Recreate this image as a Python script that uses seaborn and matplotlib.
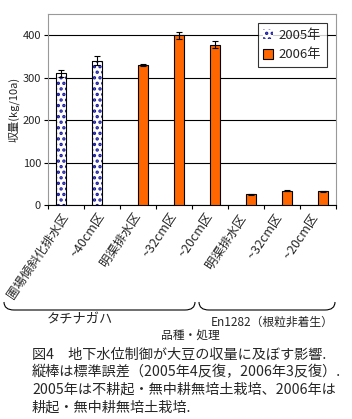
import matplotlib
matplotlib.use('Agg')
import matplotlib.pyplot as plt
from matplotlib.patches import Rectangle, PathPatch, Patch
from matplotlib.path import Path
import pandas as pd
import seaborn as sns

# data
categories = ['圃場傾斜化排水区', '~40cm区', '明渠排水区', '~32cm区', '~20cm区',
              '明渠排水区 ', '~32cm区 ', '~20cm区 ']
years = ['2005年', '2005年', '2006年', '2006年', '2006年', '2006年', '2006年', '2006年']
yield_vals = [310, 340, 330, 400, 378, 25, 34, 32]
se_vals = [9, 11, 3, 8, 9, 2, 1, 2]
y_ticks = [0, 100, 200, 300, 400]

df = pd.DataFrame({'cat': categories, 'year': years, 'yield': yield_vals, 'se': se_vals})

sns.set_style('white')
plt.rcParams['font.family'] = ['Noto Sans CJK JP', 'DejaVu Sans']
plt.rcParams['hatch.linewidth'] = 1.6

W, H = 352, 419
fig = plt.figure(figsize=(W / 100, H / 100), dpi=100)
ax = fig.add_axes([48 / W, 1 - 205 / H, 288 / W, 191 / H])

sns.barplot(data=df, x='cat', y='yield', hue='year', order=categories,
            hue_order=['2005年', '2006年'], palette={'2005年': 'white', '2006年': '#ff6600'},
            width=0.58, dodge=True, saturation=1, errorbar=None, edgecolor='black',
            linewidth=0.8, legend=False, ax=ax, zorder=3)

# style bars: dotted blue pattern for 2005
bars = [p for p in ax.patches if p.get_height() > 0]
bars.sort(key=lambda p: p.get_x())
for p, yr in zip(bars, years):
    if yr == '2005年':
        p.set_hatch('...')
        p.set_edgecolor('#1a1aa0')
        p.set_linewidth(0)
        ax.add_patch(Rectangle((p.get_x(), 0), p.get_width(), p.get_height(),
                               fill=False, edgecolor='black', linewidth=0.8, zorder=4))

xs = [p.get_x() + p.get_width() / 2 for p in bars]
ax.errorbar(xs, yield_vals, yerr=se_vals, fmt='none', ecolor='black',
            elinewidth=0.8, capsize=2.5, capthick=0.8, zorder=5)

ax.set_ylim(0, 450)
ax.set_xlim(-0.5, len(categories) - 0.5)
ax.set_yticks(y_ticks)
ax.set_yticklabels([str(t) for t in y_ticks], fontsize=8)
ax.yaxis.grid(True, color='black', linewidth=0.8)
ax.set_axisbelow(True)
ax.tick_params(axis='y', left=True, length=3, width=0.8, color='black', pad=2)
ax.set_xticks([i - 0.5 for i in range(len(categories) + 1)], minor=True)
ax.tick_params(axis='x', which='minor', bottom=True, length=3, width=0.8, color='black')
ax.tick_params(axis='x', which='major', bottom=False, pad=3)
ax.set_xticks(range(len(categories)))
ax.set_xticklabels(categories, rotation=56, ha='right', va='center',
                   rotation_mode='anchor', fontsize=9)
ax.set_xlabel('')
ax.set_ylabel('収量(kg/10a)', fontsize=8, labelpad=2)
for s in ax.spines.values():
    s.set_color('#999999')
    s.set_linewidth(0.8)
ax.spines['bottom'].set_color('black')

# legend
handles = [Patch(facecolor='white', edgecolor='#1a1aa0', hatch='...', linewidth=0, label='2005年'),
           Patch(facecolor='#ff6600', edgecolor='black', linewidth=0.8, label='2006年')]
leg = ax.legend(handles=handles, loc='upper right', bbox_to_anchor=(0.99, 0.985),
                fontsize=9.5, frameon=True, fancybox=False, edgecolor='black',
                handlelength=0.8, handleheight=0.8, handletextpad=0.4,
                borderpad=0.4, labelspacing=0.5)
leg.get_frame().set_linewidth(0.8)


def brace(x0, x1, y, h=8, r=10):
    verts = [(x0, y - h), (x0, y), (x0 + r, y), (x1 - r, y), (x1, y), (x1, y - h)]
    codes = [Path.MOVETO, Path.CURVE3, Path.CURVE3, Path.LINETO, Path.CURVE3, Path.CURVE3]
    verts = [(vx / W, 1 - vy / H) for vx, vy in verts]
    fig.add_artist(PathPatch(Path(verts, codes), fill=False, edgecolor='black',
                             linewidth=0.8, transform=fig.transFigure))


brace(4, 195, 310)
brace(199, 335, 310)
fig.text(80 / W, 1 - 320 / H, 'タチナガハ', ha='center', va='center', fontsize=9.5)
fig.text(272 / W, 1 - 322 / H, 'En1282（根粒非着生）', ha='center', va='center', fontsize=8.5)
fig.text(190 / W, 1 - 336 / H, '品種・処理', ha='center', va='center', fontsize=8.5)

caption = ['図4　地下水位制御が大豆の収量に及ぼす影響.',
           '縦棒は標準誤差（2005年4反復，2006年3反復）.',
           '2005年は不耕起・無中耕無培土栽培、2006年は',
           '耕起・無中耕無培土栽培.']
for i, line in enumerate(caption):
    fig.text(32 / W, 1 - (355 + i * 17.5) / H, line, ha='left', va='center', fontsize=10.2)

fig.savefig('out.png', dpi=100)
